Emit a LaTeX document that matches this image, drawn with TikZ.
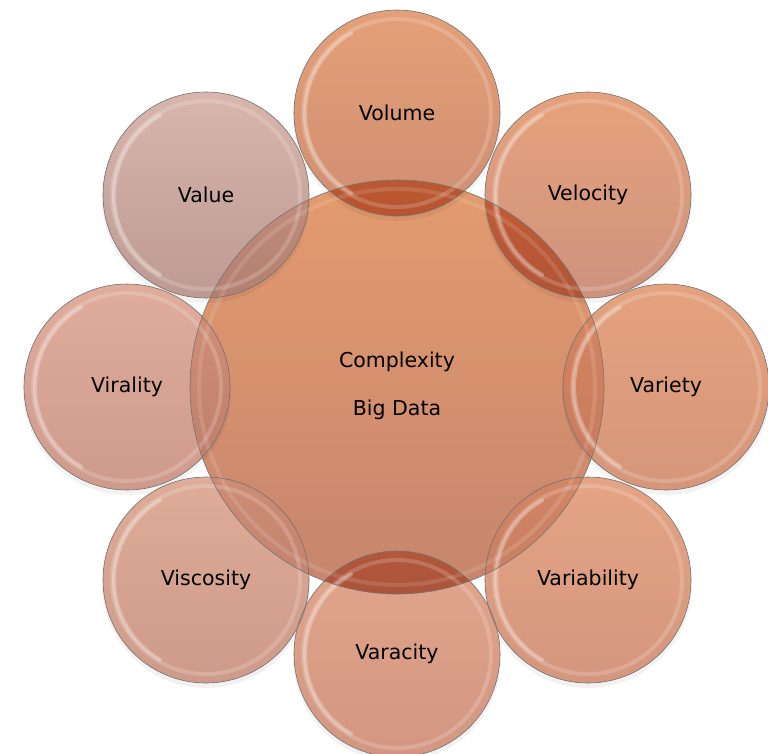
\documentclass[tikz,border=0pt]{standalone}
\usepackage{fontspec}
\setmainfont{DejaVu Sans}
\definecolor{ctrTop}{RGB}{226,148,100}
\definecolor{ctrBot}{RGB}{194,124,98}
\definecolor{volTop}{RGB}{228,160,120}
\definecolor{volBot}{RGB}{208,142,114}
\definecolor{velTop}{RGB}{230,162,124}
\definecolor{velBot}{RGB}{206,146,126}
\definecolor{varTop}{RGB}{228,162,126}
\definecolor{varBot}{RGB}{214,150,122}
\definecolor{vabTop}{RGB}{228,164,132}
\definecolor{vabBot}{RGB}{212,150,126}
\definecolor{vacTop}{RGB}{226,166,140}
\definecolor{vacBot}{RGB}{210,150,130}
\definecolor{visTop}{RGB}{222,172,152}
\definecolor{visBot}{RGB}{206,154,138}
\definecolor{virTop}{RGB}{224,172,156}
\definecolor{virBot}{RGB}{206,154,140}
\definecolor{valTop}{RGB}{216,182,172}
\definecolor{valBot}{RGB}{190,154,146}
\begin{document}
\begin{tikzpicture}[x=1pt,y=-1pt,
  satnode/.style={circle, inner sep=0pt, minimum size=206pt},
  ctrnode/.style={circle, inner sep=0pt, minimum size=414pt},
  lbl/.style={font=\fontsize{20.5}{24}\selectfont, text=black},
  rim/.style={draw=black!55, line width=0.6pt},
  gloss/.style={draw=white, line width=4pt, opacity=0.18},
  glossarc/.style={draw=white, line width=4pt, opacity=0.3, line cap=round},
  shadowfill/.style={fill=black, opacity=0.05}
]
\fill[white] (0,0) rectangle (768,753);
\useasboundingbox (0,0) rectangle (768,753);

% positions
\coordinate (pvol) at (397,113);
\coordinate (pvel) at (588,195);
\coordinate (pvar) at (666,387);
\coordinate (pvab) at (588,580);
\coordinate (pvac) at (397,654);
\coordinate (pvis) at (206,580);
\coordinate (pvir) at (127,387);
\coordinate (pval) at (206,195);
\coordinate (pctr) at (397,387);

% shadows
\foreach \p in {pvol,pvel,pvar,pvab,pvac,pvis,pvir,pval}
  \fill[shadowfill] ([yshift=-4pt]\p) circle (104pt);

% satellites (opaque base)
\node[satnode, top color=volTop, bottom color=volBot] (vol) at (pvol) {};
\node[satnode, top color=velTop, bottom color=velBot] (vel) at (pvel) {};
\node[satnode, top color=varTop, bottom color=varBot] (var) at (pvar) {};
\node[satnode, top color=vabTop, bottom color=vabBot] (vab) at (pvab) {};
\node[satnode, top color=vacTop, bottom color=vacBot] (vac) at (pvac) {};
\node[satnode, top color=visTop, bottom color=visBot] (vis) at (pvis) {};
\node[satnode, top color=virTop, bottom color=virBot] (vir) at (pvir) {};
\node[satnode, top color=valTop, bottom color=valBot] (val) at (pval) {};

% central circle, multiplied over the satellites
\begin{scope}[blend mode=multiply]
\node[ctrnode, top color=ctrTop, bottom color=ctrBot, fill opacity=0.93] (ctr) at (pctr) {};
\end{scope}

% satellites lying over the central circle
\shade[top color=varTop, bottom color=varBot, fill opacity=0.6] (var.center) circle (103pt);
\shade[top color=vabTop, bottom color=vabBot, fill opacity=0.6] (vab.center) circle (103pt);
\shade[top color=visTop, bottom color=visBot, fill opacity=0.6] (vis.center) circle (103pt);
\shade[top color=virTop, bottom color=virBot, fill opacity=0.6] (vir.center) circle (103pt);
\shade[top color=valTop, bottom color=valBot, fill opacity=0.6] (val.center) circle (103pt);

% gloss rings
\foreach \n in {vol,vel,var,vab,vac,vis,vir,val}{
  \draw[gloss] (\n.center) circle (94pt);
  \draw[glossarc] ([shift={(120:92pt)}]\n.center) arc (120:240:92pt);
}
\draw[gloss, opacity=0.12] (ctr.center) circle (198pt);

% outlines
\draw[rim] (ctr.center) circle (207pt);
\foreach \n in {vol,vel,var,vab,vac,vis,vir,val}
  \draw[rim] (\n.center) circle (103pt);

% labels
\node[lbl] (tvol) at (vol.center) {Volume};
\node[lbl] (tvel) at (vel.center) {Velocity};
\node[lbl] (tvar) at (var.center) {Variety};
\node[lbl] (tvab) at (vab.center) {Variability};
\node[lbl] (tvac) at (vac.center) {Varacity};
\node[lbl] (tvis) at (vis.center) {Viscosity};
\node[lbl] (tvir) at (vir.center) {Virality};
\node[lbl] (tval) at (val.center) {Value};
\node[lbl] (tcx) at (397,362) {Complexity};
\node[lbl] (tbd) at (397,410) {Big Data};
\end{tikzpicture}
\end{document}
